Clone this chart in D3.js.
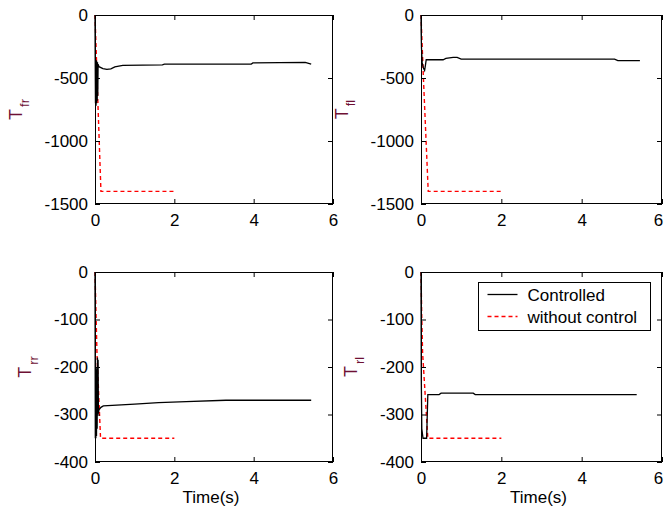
<!DOCTYPE html>
<html>
<head>
<meta charset="utf-8">
<script src="https://cdn.jsdelivr.net/npm/d3@7"></script>
<style>
  html, body { margin: 0; padding: 0; background: #fff; }
  svg { display: block; font-family: "Liberation Sans", Arial, sans-serif; }
</style>
</head>
<body>
<svg id="chart" width="664" height="518"></svg>
<script>
// ---------- DATA ----------
const timeTicks = [0, 2, 4, 6];
const frontTicks = [0, -500, -1000, -1500];
const rearTicks = [0, -100, -200, -300, -400];

const panelNames = ["fr", "fl", "rr", "rl"];
const seriesNames = ["Controlled", "without control"];

// T_fr
const frControlled = [[0,0],[0.005,-350],[0.012,-700],[0.018,-380],[0.026,-720],[0.033,-360],[0.041,-700],[0.048,-370],[0.056,-680],[0.063,-375],[0.07,-640],[0.078,-390],[0.1,-410],[0.2,-425],[0.3,-432],[0.4,-428],[0.5,-412],[0.7,-400],[1.7,-396],[1.75,-390],[3.94,-389],[3.98,-380],[5.3,-376],[5.45,-389]];
const frWithout = [[0,0],[0.075,-714],[0.15,-1400],[2,-1400]];
// T_fl
const flControlled = [[0,0],[0.005,-150],[0.012,-260],[0.03,-380],[0.06,-420],[0.09,-440],[0.11,-400],[0.13,-355],[0.55,-355],[0.62,-345],[0.8,-336],[0.9,-336],[1.0,-350],[4.82,-350],[4.9,-362],[5.45,-362]];
const flWithout = [[0,0],[0.03,-250],[0.06,-500],[0.18,-1400],[2,-1400]];
// T_rr
const rrControlled = [[0,0],[0.008,-350],[0.015,-205],[0.022,-350],[0.03,-205],[0.038,-345],[0.046,-200],[0.054,-330],[0.062,-180],[0.07,-300],[0.078,-185],[0.086,-298],[0.1,-290],[0.15,-285],[0.21,-282],[1.0,-278],[1.6,-275],[2.3,-273],[3.3,-270],[5.45,-270]];
const rrWithout = [[0,0],[0.05,-171],[0.14,-350],[2,-350]];
// T_rl
const rlControlled = [[0,0],[0.008,-230],[0.02,-330],[0.05,-350],[0.14,-350],[0.17,-258],[0.45,-258],[0.5,-255],[1.3,-255],[1.35,-258],[5.37,-258]];
const rlWithout = [[0,0],[0.02,-100],[0.04,-170],[0.17,-350],[2,-350]];

// ---------- LAYOUT ----------
const svg = d3.select("#chart");
const cols = [[95, 333], [421, 662]];
const rows = [[15, 204], [272, 462]];
const labelColor = "#6e1034";
const fontSize = 17;

const panels = [
  { name: panelNames[0], c: 0, r: 0, domain: [-1500, 0], ticks: frontTicks, ctrl: frControlled, wo: frWithout },
  { name: panelNames[1], c: 1, r: 0, domain: [-1500, 0], ticks: frontTicks, ctrl: flControlled, wo: flWithout },
  { name: panelNames[2], c: 0, r: 1, domain: [-400, 0], ticks: rearTicks, ctrl: rrControlled, wo: rrWithout, xlabel: true },
  { name: panelNames[3], c: 1, r: 1, domain: [-400, 0], ticks: rearTicks, ctrl: rlControlled, wo: rlWithout, legend: true, xlabel: true },
];

panels.forEach(p => {
  const [x0, x1] = cols[p.c];
  const [y0, y1] = rows[p.r];
  const x = d3.scaleLinear().domain([0, 6]).range([x0, x1]);
  const y = d3.scaleLinear().domain(p.domain).range([y1, y0]);
  const g = svg.append("g");

  g.append("rect").attr("x", x0).attr("y", y0).attr("width", x1 - x0).attr("height", y1 - y0)
    .attr("fill", "#fff");

  const line = d3.line().x(d => x(d[0])).y(d => y(d[1]));

  g.append("path").datum(p.wo).attr("d", line)
    .attr("fill", "none").attr("stroke", "#ff0000").attr("stroke-width", 1.4)
    .attr("stroke-dasharray", "4,3");
  g.append("path").datum(p.ctrl).attr("d", line)
    .attr("fill", "none").attr("stroke", "#000").attr("stroke-width", 1.3);

  const styleAxis = sel => {
    sel.select(".domain").remove();
    sel.selectAll("line").attr("stroke", "#000");
    sel.selectAll("text").attr("fill", "#000").style("font-size", fontSize + "px")
      .style("font-family", '"Liberation Sans", Arial, sans-serif');
  };
  const xAx = g.append("g").attr("transform", `translate(0,${y1})`)
    .call(d3.axisBottom(x).tickValues(timeTicks).tickFormat(d3.format("d")).tickSize(-5).tickPadding(10))
    .call(styleAxis);
  // keep the last tick label inside the page
  xAx.selectAll("text").attr("dx", d => (x(d) + 6 > 664 ? (664 - 6 - x(d)) : 0));
  g.append("g").attr("transform", `translate(0,${y0})`)
    .call(d3.axisTop(x).tickValues(timeTicks).tickFormat("").tickSize(-5))
    .call(styleAxis);
  const yAx = g.append("g").attr("transform", `translate(${x0},0)`)
    .call(d3.axisLeft(y).tickValues(p.ticks).tickFormat(d3.format("d")).tickSize(-5).tickPadding(7))
    .call(styleAxis);
  yAx.selectAll("text").text(d => d === 0 ? "0" : "-" + Math.abs(d));
  g.append("g").attr("transform", `translate(${x1},0)`)
    .call(d3.axisRight(y).tickValues(p.ticks).tickFormat("").tickSize(-5))
    .call(styleAxis);

  g.append("rect").attr("x", x0 + 0.5).attr("y", y0 + 0.5)
    .attr("width", x1 - x0 - 1).attr("height", y1 - y0 - 1)
    .attr("fill", "none").attr("stroke", "#000").attr("stroke-width", 1);

  let minX = Infinity;
  yAx.selectAll("text").each(function () { const b = this.getBBox(); minX = Math.min(minX, b.x); });
  const lx = x0 + minX - 23;
  const cy = (y0 + y1) / 2;
  const yl = g.append("text")
    .attr("transform", `translate(${lx},${cy}) rotate(-90)`)
    .attr("text-anchor", "middle")
    .attr("fill", labelColor)
    .style("font-size", "18px");
  yl.append("tspan").text("T");
  yl.append("tspan").attr("dy", 7).attr("dx", 2).style("font-size", "13px").text(p.name);

  if (p.xlabel) {
    g.append("text").attr("x", (x0 + x1) / 2 - 3).attr("y", 503)
      .attr("text-anchor", "middle").attr("fill", "#000")
      .style("font-size", "17px").text("Time(s)");
  }

  if (p.legend) {
    const lg = g.append("g");
    const bx = 478.5, by = 282.5, bw = 172, bh = 48;
    lg.append("rect").attr("x", bx).attr("y", by).attr("width", bw).attr("height", bh)
      .attr("fill", "#fff").attr("stroke", "#000").attr("stroke-width", 1);
    const items = [
      { label: seriesNames[0], color: "#000", dash: null },
      { label: seriesNames[1], color: "#ff0000", dash: "4,3" },
    ];
    items.forEach((it, i) => {
      const yy = by + 12 + i * 22;
      lg.append("line").attr("x1", bx + 9).attr("x2", bx + 39).attr("y1", yy).attr("y2", yy)
        .attr("stroke", it.color).attr("stroke-width", 1.3)
        .attr("stroke-dasharray", it.dash);
      lg.append("text").attr("x", bx + 49).attr("y", yy + 6)
        .attr("fill", "#000").style("font-size", "17px").text(it.label);
    });
  }
});
</script>
</body>
</html>
